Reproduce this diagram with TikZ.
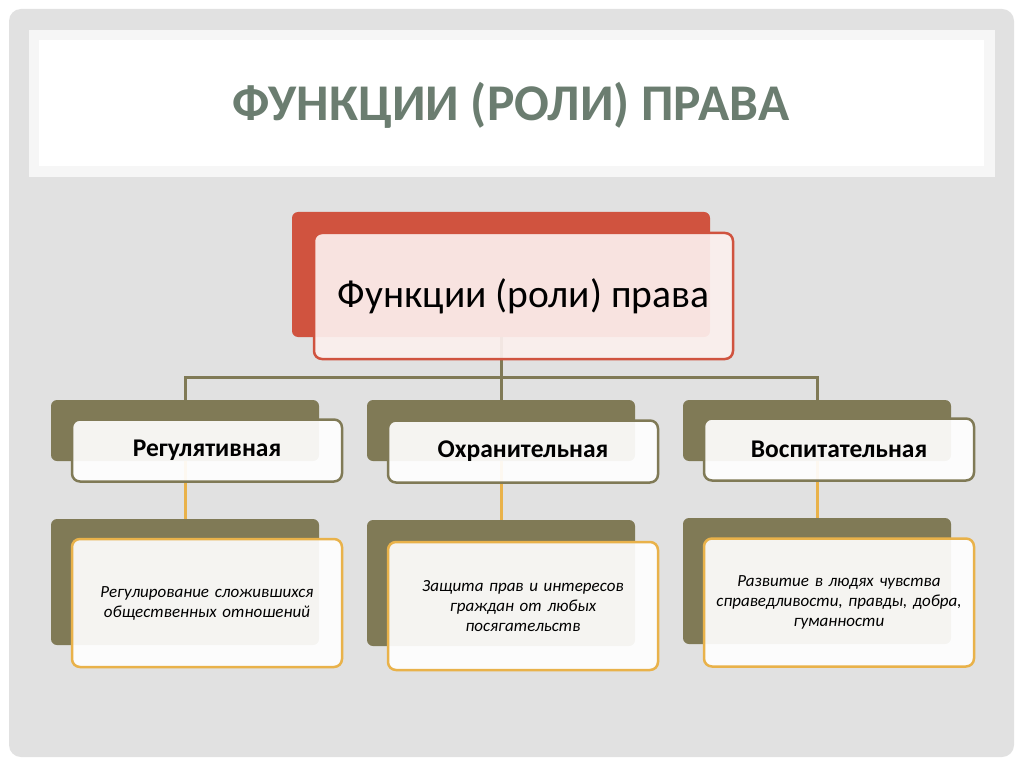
\documentclass[tikz,border=0pt]{standalone}
\usepackage{fontspec}
\setmainfont{Carlito}
\usetikzlibrary{calc}

\definecolor{panelgrey}{RGB}{225,225,225}
\definecolor{bandgrey}{RGB}{246,246,246}
\definecolor{titlegreen}{RGB}{107,125,112}
\definecolor{lawred}{RGB}{208,83,63}
\definecolor{lawpink}{RGB}{252,240,238}
\definecolor{lawolive}{RGB}{128,122,86}
\definecolor{laworange}{RGB}{233,178,74}

\tikzset{
    backbox/.style={rounded corners=6pt, inner sep=0pt},
    frontbox/.style={rounded corners=8pt, line width=2.5pt, inner sep=4pt,
            fill=white, fill opacity=0.92, text opacity=1, align=center},
    rootback/.style={backbox, fill=lawred, minimum width=418pt, minimum height=125pt},
    rootfront/.style={frontbox, draw=lawred, fill=lawpink, minimum width=419pt, minimum height=126pt},
    kindback/.style={backbox, fill=lawolive, minimum width=268pt, minimum height=61pt},
    kindfront/.style={frontbox, draw=lawolive, minimum width=270pt, minimum height=62pt,
            font=\bfseries\fontsize{25.5}{28}\selectfont},
    descback/.style={backbox, fill=lawolive, minimum width=268pt, minimum height=126pt},
    descfront/.style={frontbox, draw=laworange, minimum width=270pt, minimum height=128pt,
            text width=262pt, font=\itshape\fontsize{17}{20}\selectfont},
    olivelink/.style={draw=lawolive, line width=3pt},
    orangelink/.style={draw=laworange, line width=3pt}
}

\begin{document}
\begin{tikzpicture}[x=1pt, y=-1pt]
    % page and panel
    \useasboundingbox (0,0) rectangle (1024,767);
    \fill[white] (0,0) rectangle (1024,767);
    \fill[panelgrey, rounded corners=12pt] (9,9) rectangle (1014,757);
    \fill[bandgrey] (29,30) rectangle (995,177);
    \fill[white] (39,40) rectangle (984,166);
    \node[anchor=base, text=titlegreen, font=\bfseries\fontsize{51.5}{60}\selectfont] (title) at (511,121) {ФУНКЦИИ (РОЛИ) ПРАВА};

    % back boxes
    \node[rootback] (rootB) at (501,274.5) {};
    \node[kindback] (regB) at (185,430.5) {};
    \node[kindback] (ohrB) at (501,430.5) {};
    \node[kindback] (vosB) at (817,430.5) {};
    \node[descback] (regdB) at (185,582) {};
    \node[descback] (ohrdB) at (501,583) {};
    \node[descback] (vosdB) at (817,581) {};

    % connectors
    \draw[olivelink] (rootB.south) -- ++(0,40) coordinate (fork);
    \draw[olivelink] (fork) -| (regB.north);
    \draw[olivelink] (fork) -| (vosB.north);
    \draw[olivelink] (fork) -- (ohrB.north);
    \draw[orangelink] (regB.south) -- (regdB.north);
    \draw[orangelink] (ohrB.south) -- (ohrdB.north);
    \draw[orangelink] (vosB.south) -- (vosdB.north);

    % front boxes
    \node[rootfront, font=\fontsize{39.5}{44}\selectfont] (root) at (523.5,296) {Функции (роли) права};
    \node[kindfront] (reg) at (207,450.5) {Регулятивная};
    \node[kindfront] (ohr) at (523,451.5) {Охранительная};
    \node[kindfront] (vos) at (839,449.5) {Воспитательная};
    \node[descfront] (regd) at (207,603) {Регулирование сложившихся\\общественных отношений};
    \node[descfront] (ohrd) at (523,606) {Защита прав и интересов\\граждан от любых\\посягательств};
    \node[descfront] (vosd) at (839,602.5) {Развитие в людях чувства\\справедливости, правды, добра,\\гуманности};
\end{tikzpicture}
\end{document}
